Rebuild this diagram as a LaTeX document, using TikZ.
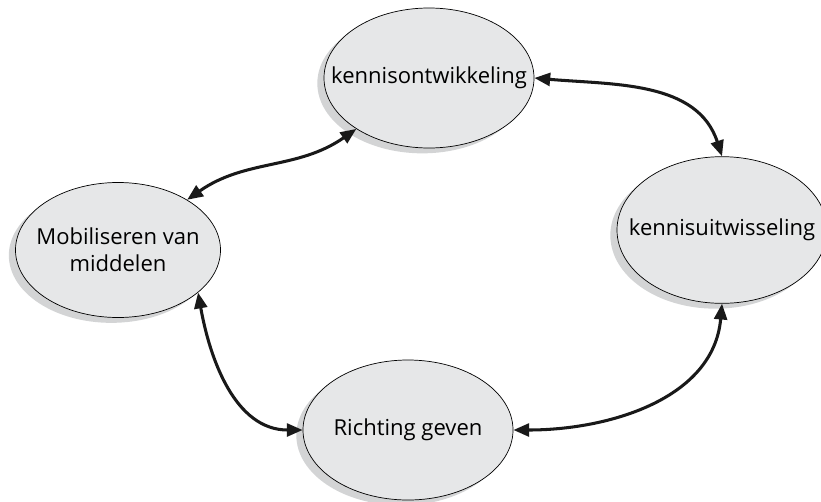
\documentclass[tikz,border=0pt]{standalone}
\usepackage{fontspec}
\setmainfont{Open Sans}
\usetikzlibrary{shapes.geometric,shadows,arrows.meta}
\definecolor{bolgrijs}{HTML}{E6E7E8}
\definecolor{schaduw}{HTML}{D3D4D5}

\begin{document}
\begin{tikzpicture}[x=0.03cm,y=-0.03cm,
		ovalnode/.style={ellipse, draw=black, line width=0.6pt, fill=bolgrijs, inner xsep=-2cm, inner ysep=0pt,
			minimum width=6.3cm, minimum height=4.2cm, align=center, font=\fontsize{18.8}{23}\selectfont,
			drop shadow={shadow xshift=-0.2cm, shadow yshift=-0.16cm, fill=schaduw, opacity=1}},
		pijl/.style={{Triangle[length=13.5pt,width=11pt]}-{Triangle[length=13.5pt,width=11pt]}, line width=2.6pt, black!90},
		]
		\useasboundingbox (0,0) rectangle (821,501);
		%Nodes
		\node[ovalnode]      (ko)  at (429,78)    {kennisontwikkeling};
		\node[ovalnode, minimum height=4.4cm]      (ku)  at (722,230)   {kennisuitwisseling};
		\node[ovalnode, minimum width=6.15cm, minimum height=4.05cm]      (mob) at (118,250)   {Mobiliseren van\\middelen};
		\node[ovalnode]      (ri)  at (408,430)   {Richting geven};

		%Pijlen
		\draw[pijl] (ko.east) to[out=-5,in=108] (ku.north);
		\draw[pijl] (ri.east) to[out=0,in=-95] (ku.south);
		\draw[pijl] (mob.-28) to[out=-80,in=180] (ri.west);
		\draw[pijl] (mob.36) to[out=35,in=215] (ko.215);
\end{tikzpicture}
\end{document}
